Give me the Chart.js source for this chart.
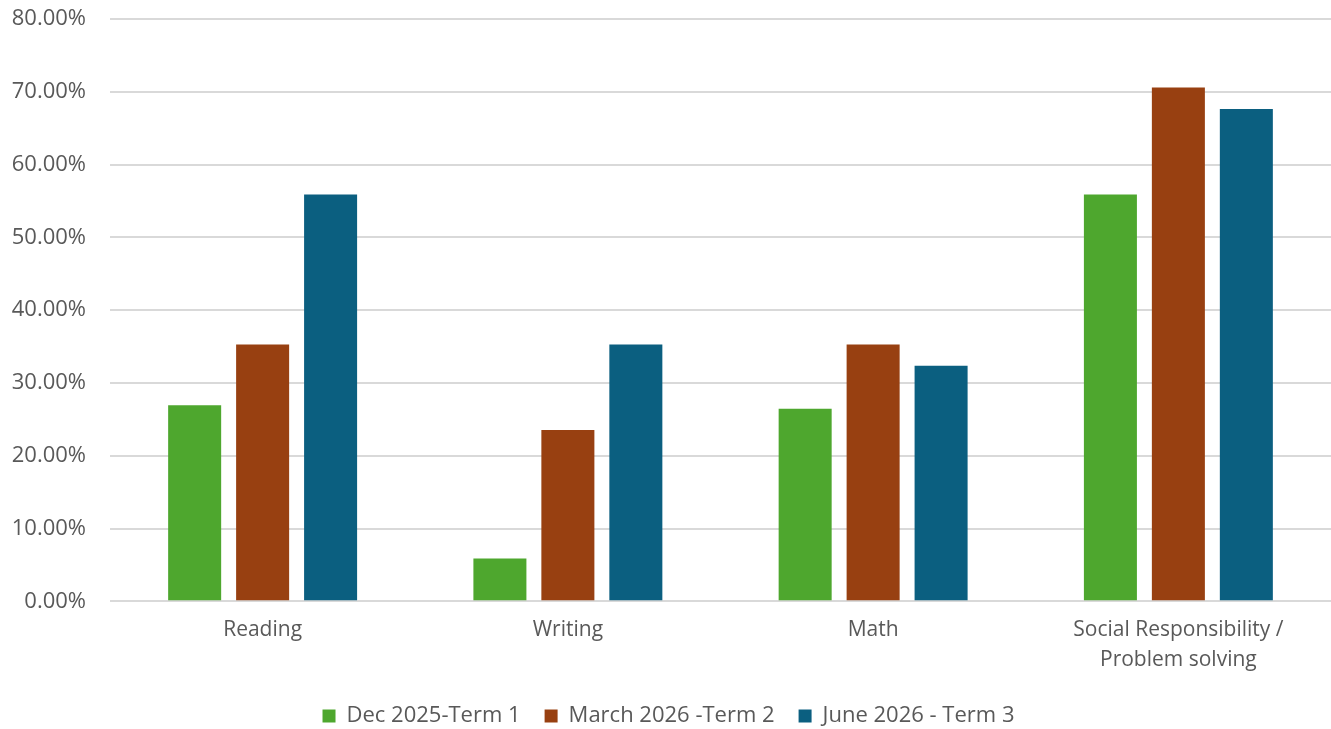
<!DOCTYPE html>
<html>
<head>
<meta charset="utf-8">
<script src="https://cdn.jsdelivr.net/npm/chart.js@4"></script>
<style>
  html, body { margin: 0; padding: 0; background: #fff; }
  #wrap { width: 1331px; height: 729px; }
</style>
</head>
<body>
<div id="wrap"><canvas id="myChart" width="1331" height="729"></canvas></div>
<script>
// categories and the three term series (percent of students)
const categories = ['Reading', 'Writing', 'Math', ['Social Responsibility /', 'Problem solving']];
const term1 = [26.95, 5.88, 26.47, 55.88];
const term2 = [35.29, 23.53, 35.29, 70.59];
const term3 = [55.88, 35.29, 32.35, 67.65];
const seriesNames = ['Dec 2025-Term 1', 'March 2026 -Term 2', 'June 2026 - Term 3'];
const colors = ['#4ea72e', '#984011', '#0b5f80'];

const textColor = '#595959';
const family = "'Open Sans', 'Noto Sans', sans-serif";

const ctx = document.getElementById('myChart');
new Chart(ctx, {
  type: 'bar',
  data: {
    labels: categories,
    datasets: [term1, term2, term3].map((d, i) => ({
      label: seriesNames[i],
      data: d,
      backgroundColor: colors[i],
      borderWidth: 0,
      barPercentage: 0.78,
      categoryPercentage: 0.668
    }))
  },
  options: {
    responsive: false,
    animation: false,
    layout: { padding: { top: 19, right: 0, left: 6, bottom: -8 } },
    plugins: {
      legend: {
        position: 'bottom',
        labels: {
          color: textColor,
          font: { family: family, size: 22 },
          boxWidth: 13,
          boxHeight: 13,
          padding: 24
        }
      },
      tooltip: { enabled: false }
    },
    scales: {
      x: {
        grid: { display: false },
        border: { display: false },
        ticks: { color: textColor, font: { family: family, size: 21, lineHeight: 1.42 }, padding: 6 }
      },
      y: {
        min: 0,
        max: 80,
        afterFit(axis) {
          axis.width = 104;
          axis.paddingTop = 0;
          axis.paddingBottom = 0;
        },
        ticks: {
          stepSize: 10,
          color: textColor,
          font: { family: family, size: 22 },
          padding: 24,
          callback: v => v.toFixed(2) + '%'
        },
        grid: { color: '#d9d9d9', lineWidth: 2, drawTicks: false },
        border: { display: false }
      }
    }
  }
});
</script>
</body>
</html>
